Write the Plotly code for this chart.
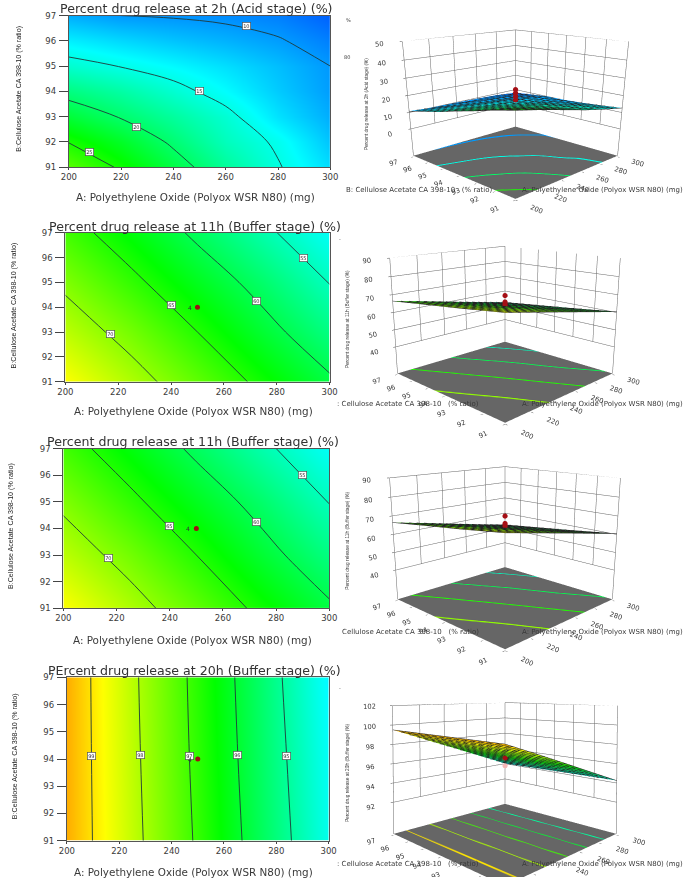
import plotly.graph_objects as go

W, H = 685, 882

# ---------- data ----------
A_P1 = [200, 220, 240, 260, 280, 300]
B_P1 = [91, 92, 93, 94, 95, 96, 97]
Z_P1 = [
    [27.5, 24.6, 21.3, 18.0, 15.2, 12.7],
    [24.9, 22.5, 19.5, 16.6, 14.6, 11.7],
    [21.8, 19.8, 17.8, 15.7, 12.9, 10.8],
    [19.0, 17.6, 15.8, 14.0, 12.0, 10.2],
    [15.9, 14.9, 13.9, 12.8, 11.5, 10.0],
    [13.4, 12.5, 11.7, 11.0, 10.2, 9.0],
    [10.8, 10.0, 9.8, 9.5, 9.0, 7.8],
]
A_P2 = [200, 225, 250, 275, 300]
B_P2 = [91, 93, 95, 97]
Z_P2 = [
    [75.0, 71.4, 67.8, 64.1, 60.5],
    [72.0, 68.7, 65.0, 61.2, 57.6],
    [69.3, 65.8, 62.2, 58.7, 54.9],
    [66.5, 63.0, 59.3, 55.7, 52.3],
]
A_P4 = [200, 225, 250, 275, 300]
B_P4 = [91, 94, 97]
Z_P4 = [
    [99.50, 98.22, 96.90, 95.57, 94.25],
    [99.50, 98.17, 96.83, 95.48, 94.15],
    [99.50, 98.13, 96.78, 95.40, 94.02],
]
POINTS_P1 = [17.5, 19.5, 21.5, 23.5]
POINTS_P2 = [64.0, 65.0, 66.0, 69.6]
POINTS_P3 = [64.5, 65.5, 66.0, 70.0]
POINTS_P4 = [96.6, 97.5]
POINT_P4_LOW = [95.8]

LEVELS_P1 = [10, 15, 20, 25]
LEVELS_P2 = [55, 60, 65, 70]
LEVELS_P4 = [95, 96, 97, 98, 99]

LABELS_P1 = [(268, 96.6, "10"), (250, 94.0, "15"), (226, 92.6, "20"), (208, 91.6, "25")]
LABELS_P2 = [(290, 96.0, "55"), (272.5, 94.25, "60"), (240, 94.1, "65"), (217, 92.9, "70")]
LABELS_P4 = [(209.5, 94.1, "99"), (228, 94.15, "98"), (246.8, 94.1, "97"), (265, 94.15, "96"), (284, 94.1, "95")]

TITLES = ["Percent drug release at 2h (Acid stage) (%)",
          "Percent drug release at 11h (Buffer stage) (%)",
          "Percent drug release at 11h (Buffer stage) (%)",
          "PErcent drug release at 20h (Buffer stage) (%)"]
XTITLE = "A: Polyethylene Oxide (Polyox WSR N80) (mg)"
YTITLE = "B:Cellulose Acetate CA 398-10 (% ratio)"
GAP = "\u00a0\u00a0\u00a0"
BTITLE_3D = ["B: Cellulose Acetate CA 398-10" + GAP + "(% ratio)",
             ": Cellulose Acetate CA 398-10" + GAP + "(% ratio)",
             "Cellulose Acetate CA 398-10" + GAP + "(% ratio)",
             ": Cellulose Acetate CA 398-10" + GAP + "(% ratio)"]
ZTITLE_3D = ["Percent drug release at 2h (Acid stage) (%)",
             "Percent drug release at 11h (Buffer stage) (%)",
             "Percent drug release at 11h (Buffer stage) (%)",
             "Percent drug release at 20h (Buffer stage) (%)"]
A_TICKS = [200, 220, 240, 260, 280, 300]
B_TICKS = [91, 92, 93, 94, 95, 96, 97]
Z_TICKS_P1 = [0, 10, 20, 30, 40, 50]
Z_TICKS_P2 = [40, 50, 60, 70, 80, 90]
Z_TICKS_P4 = [92, 94, 96, 98, 100, 102]

STOPS = [(0, (0, 0, 255)), (0.25, (0, 255, 255)), (0.5, (0, 255, 0)), (0.75, (255, 255, 0)), (1, (255, 0, 0))]
COLORS = [[s, "rgb(%d,%d,%d)" % c] for s, c in STOPS]
TXT = "#3a3a3a"
FONT = "DejaVu Sans"
FLOOR = "#666666"


def jet(t):
    for (s0, c0), (s1, c1) in zip(STOPS, STOPS[1:]):
        if t <= s1:
            f = (t - s0) / (s1 - s0)
            return "rgb(%d,%d,%d)" % tuple(round(a + (b - a) * f) for a, b in zip(c0, c1))
    return "rgb(255,0,0)"


def floor_scale(levels, cmin, cmax, half, lo, hi):
    # grey floor with a thin band in the colormap's colour at each contour level
    out = [[0, FLOOR]]
    for lv in levels:
        a = (lv - half - lo) / (hi - lo)
        b = (lv + half - lo) / (hi - lo)
        col = jet((lv - cmin) / (cmax - cmin))
        out += [[a, FLOOR], [a, col], [b, col], [b, FLOOR]]
    out.append([1, FLOOR])
    return out


panels = [
    dict(a=A_P1, b=B_P1, z=Z_P1, lv=LEVELS_P1, lb=LABELS_P1, cmin=4, cmax=44, box=(62.3, 330, 10.7, 164), band=0.14,
         zt=Z_TICKS_P1, lo=-17, pts=POINTS_P1, low=[], scene=(354, 685, 0, 400), e=2.2, c=-0.73, za=0.76, ez=0.75,
         ty=4, xy=194, by=187, bx=421, zx=367, zy=100, yx=11, yy=85),
    dict(a=A_P2, b=B_P2, z=Z_P2, lv=LEVELS_P2, lb=LABELS_P2, cmin=40.5, cmax=86.5, box=(58.7, 329.3, 230.3, 381), band=0.14,
         zt=Z_TICKS_P2, lo=24, pts=POINTS_P2, low=[], scene=(333, 685, 132, 532), e=2.07, c=-0.10, za=0.76, ez=0.75,
         ty=224, xy=411, by=404, bx=410, zx=348, zy=318, yx=6, yy=304),
    dict(a=A_P2, b=B_P2, z=Z_P2, lv=LEVELS_P2, lb=LABELS_P2, cmin=40.5, cmax=86.5, box=(56.7, 329, 449, 610), band=0.14,
         zt=Z_TICKS_P2, lo=23, pts=POINTS_P3, low=[], scene=(333, 685, 357, 757), e=2.07, c=-0.093, za=0.80, ez=0.75,
         ty=442, xy=642, by=634, bx=412, zx=348, zy=542, yx=3, yy=527),
    dict(a=A_P4, b=B_P4, z=Z_P4, lv=LEVELS_P4, lb=LABELS_P4, cmin=91.77, cmax=101.08, box=(60.3, 328.3, 680, 845.3), band=0.03,
         zt=Z_TICKS_P4, lo=88.7, pts=POINTS_P4, low=POINT_P4_LOW, scene=(333, 685, 532, 882), e=1.85, c=0.42, za=0.82, ez=0.5,
         ty=673, xy=877, by=869, bx=410, zx=347, zy=776, yx=8, yy=760),
]

fig = go.Figure()
ann = []


def px(x):
    return x / W


def py(y):
    return 1 - y / H


def text(x, y, s, size, angle=0, color=TXT, fam=FONT):
    ann.append(dict(xref="paper", yref="paper", x=px(x), y=py(y), text=s, showarrow=False,
                    textangle=angle, font=dict(size=size, color=color, family=fam),
                    xanchor="center", yanchor="middle"))


FLAT = dict(ambient=1, diffuse=0, specular=0, roughness=1, fresnel=0)
layout = {}
for i, p in enumerate(panels):
    n = "" if i == 0 else str(i + 1)
    xa, ya = "x" + n, "y" + n
    x0, x1, y0, y1 = p["box"]
    fig.add_trace(go.Contour(
        x=p["a"], y=p["b"], z=p["z"], xaxis=xa, yaxis=ya, colorscale=COLORS, zmin=p["cmin"], zmax=p["cmax"],
        showscale=False, hoverinfo="skip",
        contours=dict(coloring="heatmap", start=p["lv"][0], end=p["lv"][-1], size=p["lv"][1] - p["lv"][0]),
        line=dict(color="#1f3a3a", width=0.9, smoothing=1.0)))
    fig.add_trace(go.Scatter(x=[250], y=[94], xaxis=xa, yaxis=ya, mode="markers",
                             marker=dict(color="#a00f12", size=5, symbol="circle"), hoverinfo="skip", showlegend=False))
    layout["xaxis" + n] = dict(domain=[px(x0), px(x1)], range=[200, 300], anchor=ya, tickvals=A_TICKS,
                               ticks="outside", ticklen=2, tickcolor="#444",
                               tickfont=dict(size=8.5, color=TXT, family=FONT), showgrid=False, zeroline=False,
                               showline=True, linecolor="#555", linewidth=1, mirror=True)
    layout["yaxis" + n] = dict(domain=[py(y1), py(y0)], range=[91, 97], anchor=xa, tickvals=B_TICKS,
                               ticks="outside", ticklen=9, tickcolor="#444", ticklabelstandoff=1,
                               tickfont=dict(size=8.5, color=TXT, family=FONT), showgrid=False, zeroline=False,
                               showline=True, linecolor="#555", linewidth=1, mirror=True)
    for lx, ly, s in p["lb"]:
        ann.append(dict(xref=xa, yref=ya, x=lx, y=ly, text=s, showarrow=False, bgcolor="#ffffff",
                        bordercolor="#555", borderwidth=0.7, borderpad=0.5, font=dict(size=5, color="#333", family=FONT)))
    if i > 0:
        ann.append(dict(xref=xa, yref=ya, x=247, y=94, text="4", showarrow=False,
                        font=dict(size=6, color="#333", family=FONT)))
    text((x0 + x1) / 2 - 3, p["ty"], TITLES[i], 12.6, color="#333")
    text((x0 + x1) / 2 - 4, p["xy"], XTITLE, 10.4)
    text(p["yx"], p["yy"], YTITLE, 7.1, angle=-90, color="#222", fam="Liberation Sans")

    # 3D response surface
    sc = "scene" + n
    sx0, sx1, sy0, sy1 = p["scene"]
    lo, top = p["lo"], p["zt"][-1]
    zb = p["zt"][0]
    span = top - lo
    f_lo, f_hi = p["lv"][0] - 4 * p["band"], p["lv"][-1] + 4 * p["band"]
    fig.add_trace(go.Surface(x=p["a"], y=p["b"], z=[[lo] * len(p["a"]) for _ in p["b"]], surfacecolor=p["z"],
                             scene=sc, showscale=False, cmin=f_lo, cmax=f_hi,
                             colorscale=floor_scale(p["lv"], p["cmin"], p["cmax"], p["band"], f_lo, f_hi),
                             hoverinfo="skip", lighting=FLAT))
    fig.add_trace(go.Surface(
        x=p["a"], y=p["b"], z=p["z"], scene=sc, colorscale=COLORS, cmin=p["cmin"], cmax=p["cmax"], showscale=False,
        hoverinfo="skip", lighting=FLAT,
        contours=dict(
            x=dict(show=True, start=200, end=300, size=6, color="#222", width=1),
            y=dict(show=True, start=91, end=97, size=0.4, color="#222", width=1))))
    gx, gy, gz = [], [], []
    for t in A_TICKS:
        gx += [t, t, None]; gy += [97, 97, None]; gz += [zb, top, None]
    for t in B_TICKS:
        gx += [300, 300, None]; gy += [t, t, None]; gz += [zb, top, None]
    for t in p["zt"]:
        gx += [200, 300, 300, None]; gy += [97, 97, 91, None]; gz += [t, t, t, None]
    for cx, cy in [(200, 97), (300, 97), (300, 91)]:
        gx += [cx, cx, None]; gy += [cy, cy, None]; gz += [lo, top, None]
    fig.add_trace(go.Scatter3d(x=gx, y=gy, z=gz, mode="lines", scene=sc, line=dict(color="#666", width=1),
                               hoverinfo="skip", showlegend=False))
    fig.add_trace(go.Scatter3d(x=[250] * len(p["pts"]), y=[94] * len(p["pts"]), z=p["pts"], mode="markers", scene=sc,
                               marker=dict(color="#a50f15", size=3), hoverinfo="skip", showlegend=False))
    if p["low"]:
        fig.add_trace(go.Scatter3d(x=[250], y=[94], z=p["low"], mode="markers", scene=sc,
                                   marker=dict(color="#f4b6b6", size=3), hoverinfo="skip", showlegend=False))
    ax = dict(showbackground=False, showgrid=False, zeroline=False, showline=False, showspikes=False,
              title=dict(text=""), tickfont=dict(size=9, color=TXT, family=FONT), ticks="outside", ticklen=2,
              tickcolor="#444")
    layout[sc] = dict(
        domain=dict(x=[px(sx0), px(sx1)], y=[py(sy1), py(sy0)]),
        xaxis=dict(ax, range=[199.8, 300.2], tickvals=A_TICKS),
        yaxis=dict(ax, range=[90.99, 97.01], tickvals=B_TICKS),
        zaxis=dict(ax, range=[lo - span * 0.01, top], tickvals=p["zt"]),
        aspectmode="manual", aspectratio=dict(x=1, y=1, z=p["za"]),
        camera=dict(eye=dict(x=-p["e"], y=-p["e"], z=p["ez"]), center=dict(x=0, y=0, z=p["c"]), up=dict(x=0, y=0, z=1),
                    projection=dict(type="perspective")))
    text(609, p["by"], XTITLE, 7.0)
    text(p["bx"], p["by"], BTITLE_3D[i], 7.0)
    text(p["zx"], p["zy"], ZTITLE_3D[i], 4.8, angle=-90, fam="Liberation Sans")

text(349, 15, "%", 5)
text(347, 53, "80", 5)
text(340, 235, ".", 6)
text(340, 689, ".", 6)

fig.update_layout(width=W, height=H, margin=dict(l=0, r=0, t=0, b=0), paper_bgcolor="white", plot_bgcolor="white",
                  showlegend=False, annotations=ann, **layout)
fig.write_html("out.html", config={"displayModeBar": False},
               post_script="document.body.style.margin='0';document.body.style.overflow='hidden';")
